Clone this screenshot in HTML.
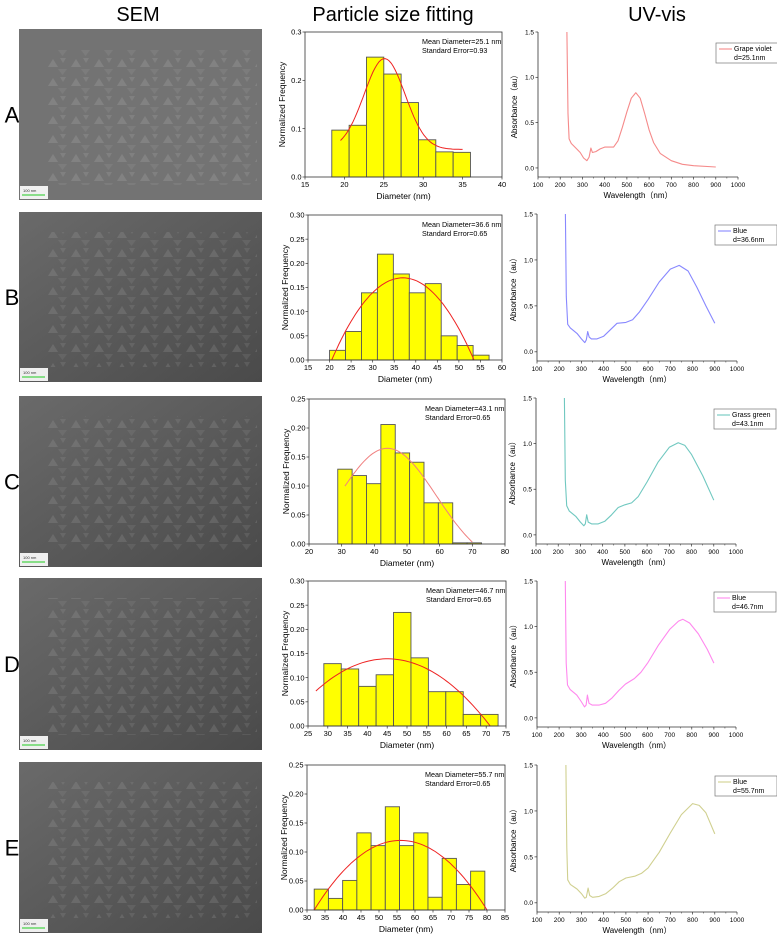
<!DOCTYPE html>
<html><head><meta charset="utf-8"><style>
html,body{margin:0;padding:0;background:#fff;}
svg{display:block;font-family:"Liberation Sans","Noto Sans CJK SC",sans-serif;}
</style></head><body>
<svg id="fig" width="777" height="938" viewBox="0 0 777 938" xmlns="http://www.w3.org/2000/svg">
<defs>
<linearGradient id="semg" x1="0" y1="0" x2="1" y2="1"><stop offset="0" stop-color="#6a6a6a"/><stop offset="0.5" stop-color="#5a5a5a"/><stop offset="1" stop-color="#4a4a4a"/></linearGradient>
<pattern id="tri" width="23" height="19" patternUnits="userSpaceOnUse"><polygon points="2,10 7,2 12,10" fill="#aaa" opacity="0.45"/><polygon points="12,12 21,12 16.5,18" fill="#999" opacity="0.4"/><polygon points="14,1 20,1 17,6" fill="#bbb" opacity="0.3"/></pattern>
</defs>
<text x="138" y="21" font-size="20" text-anchor="middle">SEM</text>
<text x="393" y="21" font-size="20" text-anchor="middle">Particle size fitting</text>
<text x="657" y="21" font-size="20" text-anchor="middle">UV-vis</text>
<g id="root"></g>
</svg>
<script>
// ---------- histogram data ----------
const binStartA=18.4, binWidthA=2.2;
const freqA=[0.097,0.107,0.248,0.213,0.154,0.077,0.052,0.051];
const binStartB=20.0, binWidthB=3.7;
const freqB=[0.02,0.059,0.139,0.219,0.178,0.139,0.158,0.05,0.03,0.01];
const binStartC=28.8, binWidthC=4.4;
const freqC=[0.129,0.118,0.104,0.206,0.157,0.141,0.071,0.071,0.002,0.002];
const binStartD=29.0, binWidthD=4.4;
const freqD=[0.129,0.118,0.082,0.106,0.235,0.141,0.071,0.071,0.024,0.024];
const binStartE=32.0, binWidthE=3.95;
const freqE=[0.036,0.020,0.051,0.133,0.111,0.178,0.111,0.133,0.022,0.089,0.044,0.067];
// fit params: [type(0 gauss,1 quad), y0, amp, center, width, xFrom, xTo]
const fitA=[0,0.057,0.188,25.1,2.6,19.5,35];
const fitB=[1,0,0.17,37,16.5,20.5,53.5];
const fitC=[0,-0.043,0.208,44,15,31,70];
const fitD=[1,0,0.139,45,26,27,71];
const fitE=[1,0,0.12,56,24,32,80];
const xTicksA=[15,20,25,30,35,40], yTicksA=[0,0.1,0.2,0.3];
const xTicksB=[15,20,25,30,35,40,45,50,55,60], yTicksB=[0,0.05,0.1,0.15,0.2,0.25,0.3];
const xTicksC=[20,30,40,50,60,70,80], yTicksC=[0,0.05,0.1,0.15,0.2,0.25];
const xTicksD=[25,30,35,40,45,50,55,60,65,70,75], yTicksD=[0,0.05,0.1,0.15,0.2,0.25,0.3];
const xTicksE=[30,35,40,45,50,55,60,65,70,75,80,85], yTicksE=[0,0.05,0.1,0.15,0.2,0.25];
const meanLabels=["25.1","36.6","43.1","46.7","55.7"];
const errLabels=["0.93","0.65","0.65","0.65","0.65"];
// ---------- UV-vis data ----------
const wlA=[230,235,240,250,270,290,305,320,330,338,345,360,380,400,420,440,460,480,500,520,540,560,580,600,620,650,700,750,800,900];
const absA=[1.5,0.6,0.32,0.27,0.22,0.17,0.11,0.08,0.12,0.22,0.17,0.18,0.21,0.23,0.23,0.23,0.3,0.45,0.62,0.77,0.83,0.77,0.6,0.42,0.28,0.16,0.08,0.04,0.025,0.01];
const wlB=[228,232,238,250,280,300,315,322,328,335,345,370,400,430,460,500,530,560,600,650,700,740,780,820,860,900];
const absB=[1.5,0.6,0.3,0.26,0.2,0.14,0.1,0.13,0.22,0.16,0.14,0.14,0.17,0.24,0.31,0.32,0.35,0.43,0.57,0.76,0.9,0.94,0.88,0.7,0.5,0.31];
const wlC=[228,232,238,250,280,300,315,322,328,335,350,380,410,440,470,500,530,560,600,650,700,740,770,800,850,900];
const absC=[1.5,0.6,0.32,0.26,0.2,0.14,0.1,0.12,0.22,0.14,0.12,0.12,0.15,0.22,0.3,0.33,0.35,0.42,0.58,0.8,0.96,1.01,0.98,0.88,0.65,0.38];
const wlD=[228,232,238,250,280,300,315,322,328,335,350,380,410,440,470,500,540,570,600,650,700,740,760,790,830,870,900];
const absD=[1.5,0.6,0.36,0.31,0.25,0.18,0.12,0.14,0.25,0.16,0.14,0.14,0.16,0.22,0.3,0.37,0.43,0.5,0.6,0.8,0.97,1.06,1.08,1.04,0.92,0.75,0.6];
const wlE=[230,234,238,250,280,300,315,322,330,337,350,380,410,440,470,500,540,570,600,650,700,750,800,830,860,900];
const absE=[1.5,0.6,0.25,0.2,0.15,0.1,0.05,0.06,0.16,0.08,0.06,0.07,0.1,0.16,0.23,0.27,0.29,0.32,0.38,0.55,0.76,0.96,1.08,1.06,0.98,0.75];
const uvTicksX=[100,200,300,400,500,600,700,800,900,1000];
const uvTicksY=[0,0.5,1.0,1.5];
const legendNames=["Grape violet","Blue","Grass green","Blue","Blue"];
const legendD=["d=25.1nm","d=36.6nm","d=43.1nm","d=46.7nm","d=55.7nm"];
const uvColors=["#f58a8a","#8888ff","#70c8c0","#ff88ee","#d0d090"];

const NS="http://www.w3.org/2000/svg";
const root=document.getElementById('root');
function mk(tag,attrs,parent,text){const e=document.createElementNS(NS,tag);for(const k in attrs)e.setAttribute(k,attrs[k]);if(text!==undefined)e.textContent=text;(parent||root).appendChild(e);return e;}

const semBoxes=[[19,29,243,171],[19,212,243,170],[19,396,243,171],[19,578,243,172],[19,762,243,171]];
const histBoxes=[[305,32,502,177],[308,215,502,360],[309,399,505,544],[308,581,506,726],[307,765,505,910]];
const uvBoxes=[[538,32,738,177],[537,214,737,361],[536,398,736,544],[537,581,736,727],[537,765,737,912]];
const letters=["A","B","C","D","E"];
const hists=[[binStartA,binWidthA,freqA,fitA,xTicksA,yTicksA,1],[binStartB,binWidthB,freqB,fitB,xTicksB,yTicksB,2],[binStartC,binWidthC,freqC,fitC,xTicksC,yTicksC,2],[binStartD,binWidthD,freqD,fitD,xTicksD,yTicksD,2],[binStartE,binWidthE,freqE,fitE,xTicksE,yTicksE,2]];
const uvs=[[wlA,absA],[wlB,absB],[wlC,absC],[wlD,absD],[wlE,absE]];

for(let r=0;r<5;r++){
  const sb=semBoxes[r];
  const lt=mk('text',{x:12,y:sb[1]+sb[3]/2+8,'font-size':22,'text-anchor':'middle'},root,letters[r]);
  
  
  const g=mk('g',{});
  
  
  mk('rect',{x:sb[0],y:sb[1],width:sb[2],height:sb[3],fill:r===0?'#737373':'url(#semg)'},g);
  mk('rect',{x:sb[0]+25,y:sb[1]+20,width:sb[2]-30,height:sb[3]-35,fill:'url(#tri)',opacity:r===0?0.6:0.45},g);
  mk('rect',{x:sb[0]+1,y:sb[1]+sb[3]-14,width:28,height:13,fill:'#fff',opacity:0.9},g);
  mk('line',{x1:sb[0]+3,y1:sb[1]+sb[3]-5,x2:sb[0]+26,y2:sb[1]+sb[3]-5,stroke:'#2c2',"stroke-width":1},g);
  mk('text',{x:sb[0]+4,y:sb[1]+sb[3]-8,'font-size':4,fill:'#333'},g,'100 nm');

  const hb=histBoxes[r], h=hists[r];
  const xt=h[4], yt=h[5];
  const xmin=xt[0], xmax=xt[xt.length-1], ymax=yt[yt.length-1];
  const X=v=>hb[0]+(v-xmin)/(xmax-xmin)*(hb[2]-hb[0]);
  const Y=v=>hb[3]-v/ymax*(hb[3]-hb[1]);
  const hg=mk('g',{});
  
  
  h[2].forEach((f,i)=>{
    const x0=X(h[0]+i*h[1]), x1=X(h[0]+(i+1)*h[1]);
    const b=mk('rect',{x:x0,y:Y(f),width:x1-x0,height:Y(0)-Y(f),fill:'#ffff00',stroke:'#555','stroke-width':0.9},hg);
    
    
  });
  const fp=h[3]; let pts=[];
  for(let k=0;k<=60;k++){const x=fp[5]+(fp[6]-fp[5])*k/60;
    let y=fp[0]===0?fp[1]+fp[2]*Math.exp(-Math.pow(x-fp[3],2)/(2*fp[4]*fp[4])):fp[2]*(1-Math.pow((x-fp[3])/fp[4],2));
    pts.push(X(x).toFixed(1)+','+Y(Math.max(y,0)).toFixed(1));}
  const fl=mk('polyline',{points:pts.join(' '),fill:'none',stroke:r===2?'#f08080':'#ee2222','stroke-width':1},hg);
  
  
  mk('rect',{x:hb[0],y:hb[1],width:hb[2]-hb[0],height:hb[3]-hb[1],fill:'none',stroke:'#333','stroke-width':0.8},hg);
  xt.forEach(v=>{mk('line',{x1:X(v),y1:hb[3],x2:X(v),y2:hb[3]+2.5,stroke:'#333','stroke-width':0.7},hg);
    mk('text',{x:X(v),y:hb[3]+10,'font-size':7.5,'text-anchor':'middle'},hg,String(v));});
  yt.forEach(v=>{mk('line',{x1:hb[0],y1:Y(v),x2:hb[0]-2.5,y2:Y(v),stroke:'#333','stroke-width':0.7},hg);
    mk('text',{x:hb[0]-3.5,y:Y(v)+2.6,'font-size':7.5,'text-anchor':'end'},hg,v.toFixed(h[6]));});
  const xl=mk('text',{x:(hb[0]+hb[2])/2,y:hb[3]+22,'font-size':8.5,'text-anchor':'middle'},hg,'Diameter (nm)');
  
  
  const yl=mk('text',{x:0,y:0,'font-size':8.5,'text-anchor':'middle',transform:`translate(${hb[0]-20},${(hb[1]+hb[3])/2}) rotate(-90)`},hg,'Normalized Frequency');
  
  
  const an=mk('text',{x:hb[2]-80,y:hb[1]+12,'font-size':7.2},hg);
  
  
  mk('tspan',{x:hb[2]-80,dy:0},an,'Mean Diameter='+meanLabels[r]+' nm');
  mk('tspan',{x:hb[2]-80,dy:9},an,'Standard  Error='+errLabels[r]);

  const ub=uvBoxes[r], u=uvs[r];
  const UX=v=>ub[0]+(v-100)/900*(ub[2]-ub[0]);
  const UY=v=>ub[3]-(v+0.1)/1.6*(ub[3]-ub[1]);
  const ug=mk('g',{});
  
  
  mk('line',{x1:ub[0],y1:ub[1],x2:ub[0],y2:ub[3],stroke:'#333','stroke-width':0.8},ug);
  mk('line',{x1:ub[0],y1:ub[3],x2:ub[2],y2:ub[3],stroke:'#333','stroke-width':0.8},ug);
  uvTicksX.forEach(v=>{mk('line',{x1:UX(v),y1:ub[3],x2:UX(v),y2:ub[3]+2.5,stroke:'#333','stroke-width':0.7},ug);
    if(v<1000)mk('line',{x1:UX(v+50),y1:ub[3],x2:UX(v+50),y2:ub[3]+1.5,stroke:'#333','stroke-width':0.5},ug);
    mk('text',{x:UX(v),y:ub[3]+10,'font-size':6.5,'text-anchor':'middle'},ug,String(v));});
  uvTicksY.forEach(v=>{mk('line',{x1:ub[0],y1:UY(v),x2:ub[0]-2.5,y2:UY(v),stroke:'#333','stroke-width':0.7},ug);
    mk('text',{x:ub[0]-4,y:UY(v)+2.4,'font-size':6.5,'text-anchor':'end'},ug,v.toFixed(1));});
  const up=u[0].map((w,i)=>UX(w).toFixed(1)+','+UY(u[1][i]).toFixed(1)).join(' ');
  const sp=mk('polyline',{points:up,fill:'none',stroke:uvColors[r],'stroke-width':1.1,'stroke-linejoin':'round'},ug);
  
  
  const ux=mk('text',{x:(ub[0]+ub[2])/2,y:ub[3]+21,'font-size':8,'text-anchor':'middle'},ug,'Wavelength（nm）');
  
  
  const uy=mk('text',{x:0,y:0,'font-size':8,'text-anchor':'middle',transform:`translate(${ub[0]-21},${(ub[1]+ub[3])/2}) rotate(-90)`},ug,'Absorbance（au）');
  
  
  const lg=mk('g',{},ug);
  
  
  const lx=ub[2]-22, ly=ub[1]+11;
  mk('rect',{x:lx,y:ly,width:62,height:20,fill:'#fff',stroke:'#777','stroke-width':0.7},lg);
  mk('line',{x1:lx+3,y1:ly+6,x2:lx+16,y2:ly+6,stroke:uvColors[r],'stroke-width':1.1},lg);
  mk('text',{x:lx+18,y:ly+8,'font-size':7},lg,legendNames[r]);
  mk('text',{x:lx+18,y:ly+17,'font-size':7},lg,legendD[r]);
}
</script>
</body></html>
